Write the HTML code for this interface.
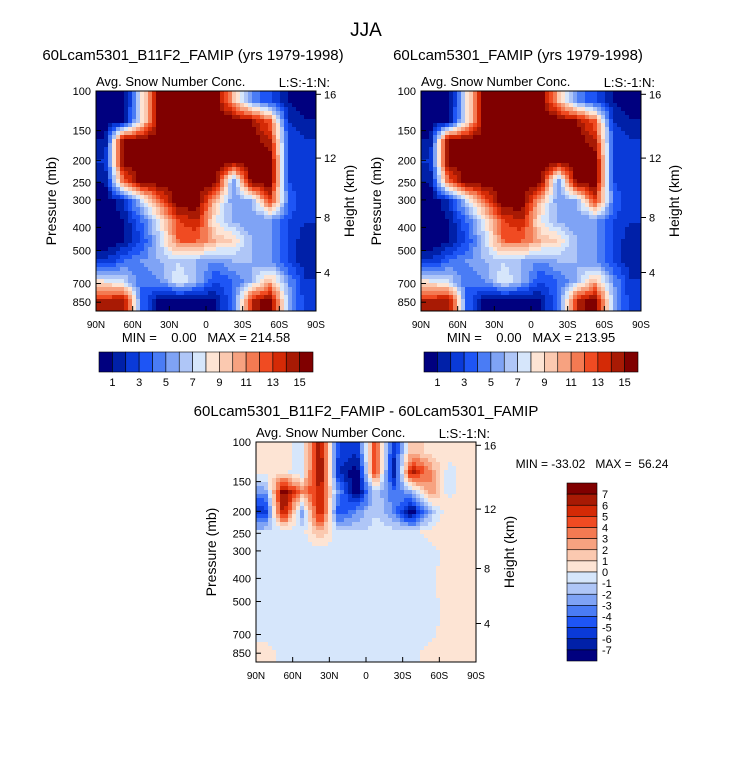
<!DOCTYPE html>
<html><head><meta charset="utf-8"><style>
body{margin:0;background:#fff;width:733px;height:756px;overflow:hidden}
svg text{font-family:"Liberation Sans",sans-serif;fill:#000}
.pre{white-space:pre}
</style></head><body>
<svg id="s" width="733" height="756" xmlns="http://www.w3.org/2000/svg">
<text x="366" y="36" font-size="19" text-anchor="middle">JJA</text>
</svg>
<script>
// ---- data ----
const latLabels=["90N","60N","30N","0","30S","60S","90S"];
const presLabels=["100","150","200","250","300","400","500","700","850"];
const presFrac=[0,0.18,0.315,0.415,0.495,0.62,0.725,0.875,0.96];
const hgtLabels=["16","12","8","4"];
const hgtFrac=[0.015,0.305,0.575,0.825];
const topTicks=["1","3","5","7","9","11","13","15"];
const diffTicks=["7","6","5","4","3","2","1","0","-1","-2","-3","-4","-5","-6","-7"];
const fieldA=[
[0,0,8,16,16,16,16,10,5,3,1,0],
[0,1,8,16,16,16,16,16,15,12,2,1],
[1,16,16,16,16,16,16,16,16,14,3,2],
[2,16,16,16,16,16,16,16,16,16,3,2],
[1,12,16,16,16,16,16,5,16,16,3,2],
[0,2,7,12,16,16,10,5,6,13,4,2],
[0,1,4,8,13,14,8,6,5,5,3,2],
[0,1,3,7,12,12,10,9,6,5,3,1],
[2,4,5,6,7,6,5,6,6,5,3,1],
[8,7,4,5,8,6,3,4,6,10,5,2],
[14,15,4,0,0,0,1,4,14,16,6,2]];
const fieldB=[
[0,0,8,16,16,16,16,10,5,3,1,0],
[0,1,8,16,16,16,16,16,15,12,2,1],
[1,16,16,16,16,16,16,16,16,14,3,2],
[2,16,16,16,16,16,16,16,16,16,3,2],
[1,12,16,16,16,16,16,5,16,16,3,2],
[0,2,7,12,16,16,10,5,6,13,4,2],
[0,1,4,8,13,14,8,6,5,5,3,2],
[0,1,3,7,12,12,10,9,6,5,3,1],
[2,4,5,6,7,6,5,6,6,5,3,1],
[8,7,4,5,8,6,3,4,6,10,5,2],
[14,15,4,0,0,0,1,4,14,16,6,2]];
const fieldDiff=[
[0.5,0.5,-0.5,7,-5,-6,5,-6,2,0.5,0.5,0.5],
[0.5,0.5,-1,8,-6,-8,5,-7,7,3,-0.5,0.5],
[-3,8,3,6,-3,-8,-1,-4,-2,3,-0.5,0.5],
[-6,7,-3,7,-5,-3,-1,-3,-8,-2,1,0.5],
[-1,-1,-0.5,2,-1,-1,-0.5,-0.5,-0.5,0.5,1,0.5],
[-0.5,-0.5,-0.5,-0.5,-0.5,-0.5,-0.5,-0.3,-0.5,-0.5,0.5,0.5],
[-0.5,-0.5,-0.5,-0.5,-0.5,-0.5,-0.5,-0.3,-0.5,-0.3,0.5,0.5],
[-0.3,-0.5,-0.5,-0.5,-0.5,-0.5,-0.5,-0.5,-0.5,-0.3,0.5,0.5],
[-0.3,-0.5,-0.3,-0.5,-0.5,-0.5,-0.5,-0.5,-0.5,-0.5,0.5,0.5],
[-0.3,-0.5,-0.5,-0.3,-0.5,-0.5,-0.5,-0.5,-0.5,-0.3,0.5,0.5],
[0.3,-0.3,-0.5,-0.5,-0.3,-0.5,-0.5,-0.3,-0.3,0.3,0.5,0.5]];
const pal=["#00007f","#0020a8","#0a3ad8","#1e55f5","#4a7cf5","#7fa3f5","#afc6f7","#d6e6fb","#fde4d4","#fbc9b0","#f7a280","#f47a52","#f04b22","#d42a06","#a81a04","#800000"];
// ---- drawing ----
const S=document.getElementById('s');const NS="http://www.w3.org/2000/svg";
function el(t,a,txt){const e=document.createElementNS(NS,t);for(const k in a)e.setAttribute(k,a[k]);if(txt!==undefined)e.textContent=txt;S.appendChild(e);return e;}
function sample(f,u,v){const R=f.length,C=f[0].length;let x=u*C-0.5,y=v*R-0.5;x=Math.max(0,Math.min(C-1,x));y=Math.max(0,Math.min(R-1,y));
const x0=Math.floor(x),y0=Math.floor(y),x1=Math.min(C-1,x0+1),y1=Math.min(R-1,y0+1),fx=x-x0,fy=y-y0;
return f[y0][x0]*(1-fx)*(1-fy)+f[y0][x1]*fx*(1-fy)+f[y1][x0]*(1-fx)*fy+f[y1][x1]*fx*fy;}
function panel(X,Y,f,bin,name,title){
 const W=220,H=220,st=4;
 for(let j=0;j<H/st;j++)for(let i=0;i<W/st;i++){
  const v=sample(f,(i+0.5)*st/W,(j+0.5)*st/H);
  const r=el('rect',{x:X+i*st,y:Y+j*st,width:st+0.3,height:st+0.3,fill:pal[bin(v)]});
  
  
 }
 el('rect',{x:X,y:Y,width:W,height:H,fill:'none',stroke:'#000','stroke-width':1,});
 if(title)el('text',{x:X+97,y:Y-31,'font-size':15,'text-anchor':'middle',},title);
 el('text',{x:X,y:Y-5,'font-size':13,},"Avg. Snow Number Conc.");
 el('text',{x:X+W+14,y:Y-4,'font-size':13,'text-anchor':'end',},"L:S:-1:N:");
 latLabels.forEach((l,k)=>{const x=X+k*W/6;
  el('line',{x1:x,y1:Y+H,x2:x,y2:Y+H-5,stroke:'#000'});
  const t=el('text',{x:x,y:Y+H+17,'font-size':10,'text-anchor':'middle'},l);
  });
 presLabels.forEach((l,k)=>{const y=Y+presFrac[k]*H;
  el('line',{x1:X,y1:y,x2:X+5,y2:y,stroke:'#000'});
  const t=el('text',{x:X-5,y:y+4,'font-size':11,'text-anchor':'end'},l);
  });
 hgtLabels.forEach((l,k)=>{const y=Y+hgtFrac[k]*H;
  el('line',{x1:X+W,y1:y,x2:X+W+5,y2:y,stroke:'#000'});
  const t=el('text',{x:X+W+8,y:y+4,'font-size':11},l);
  });
 el('text',{transform:`translate(${X-40},${Y+H/2}) rotate(-90)`,'font-size':14,'text-anchor':'middle',},"Pressure (mb)");
 el('text',{transform:`translate(${X+W+38},${Y+H/2}) rotate(-90)`,'font-size':14,'text-anchor':'middle',},"Height (km)");
}
const binTop=v=>Math.max(0,Math.min(15,Math.floor(v)));
const binDiff=v=>Math.max(0,Math.min(15,Math.floor(v)+8));
panel(96,91,fieldA,binTop,'panel-b11f2',"60Lcam5301_B11F2_FAMIP (yrs 1979-1998)");
panel(421,91,fieldB,binTop,'panel-famip',"60Lcam5301_FAMIP (yrs 1979-1998)");
panel(256,442,fieldDiff,binDiff,'panel-diff',null);
el('text',{x:366,y:416,'font-size':15,'text-anchor':'middle',},"60Lcam5301_B11F2_FAMIP - 60Lcam5301_FAMIP");
el('text',{x:206,y:342,'font-size':13,'text-anchor':'middle','class':'pre',},"MIN =    0.00   MAX = 214.58");
el('text',{x:531,y:342,'font-size':13,'text-anchor':'middle','class':'pre',},"MIN =    0.00   MAX = 213.95");
el('text',{x:592,y:468,'font-size':12,'text-anchor':'middle','class':'pre',},"MIN = -33.02   MAX =  56.24");
// horizontal colorbars
[99,424].forEach((bx,n)=>{const bw=214/16;
 pal.forEach((c,k)=>{const r=el('rect',{x:bx+k*bw,y:352,width:bw,height:20,fill:c,stroke:'#000','stroke-width':0.6});
  });
 topTicks.forEach((l,k)=>{const t=el('text',{x:bx+(1+2*k)*bw,y:386,'font-size':11,'text-anchor':'middle'},l);
  });
});
// vertical colorbar
{const by=483,bh=178/16;
 pal.slice().reverse().forEach((c,k)=>{const r=el('rect',{x:567,y:by+k*bh,width:30,height:bh,fill:c,stroke:'#000','stroke-width':0.6});
  });
 diffTicks.forEach((l,k)=>{const t=el('text',{x:602,y:by+(k+1)*bh+4,'font-size':11},l);
  });
}
</script>
</body></html>
